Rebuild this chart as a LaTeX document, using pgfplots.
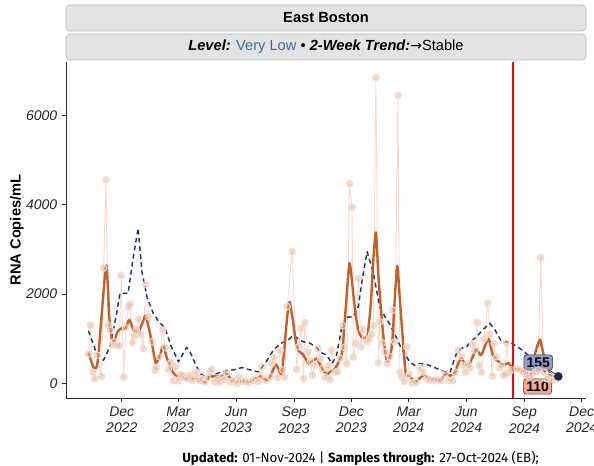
\documentclass[border=0pt]{standalone}
\usepackage{fontspec}
\setmainfont{Liberation Sans}
\newfontfamily\footfont{Fira Sans}
\newfontfamily\symfont{DejaVu Sans}
\usepackage{pgfplots}
\usepackage{pgfplotstable}
\pgfplotsset{compat=1.18}

\definecolor{rawpt}{HTML}{E6B59B}
\definecolor{rawln}{HTML}{F3DCCF}
\definecolor{smoothc}{HTML}{C4612A}
\definecolor{navy}{HTML}{1C3769}
\definecolor{stripfill}{HTML}{E3E3E3}
\definecolor{stripline}{HTML}{B8B8B8}
\definecolor{vlow}{HTML}{3E6D9C}
\definecolor{lblblue}{HTML}{8E9ECC}
\definecolor{lblsalmon}{HTML}{F6AB8E}
\definecolor{dotnavy}{HTML}{1E2A4F}
\definecolor{vred}{rgb}{1,0,0}

% days since 01-Dec-2022, RNA copies/mL
\pgfplotstableread{
d v
-53 660
-50 1300
-46 250
-43 100
-39 630
-32 160
-29 2580
-25 4560
-22 1300
-18 1190
-14 860
-12 930
-8 850
-4 840
-1 2420
3 140
6 1250
11 1710
13 1770
17 910
20 1060
23 1200
27 1440
30 1100
34 780
38 2210
43 1490
48 930
53 290
55 350
60 590
65 1190
69 800
74 310
78 460
82 55
86 370
90 55
93 200
97 180
100 120
104 100
108 180
112 60
118 250
121 130
124 67
128 100
132 30
136 120
140 250
143 310
148 30
152 80
156 30
160 140
163 90
167 240
172 30
177 60
183 0
186 130
191 40
196 50
201 20
207 60
212 90
217 40
220 180
223 370
229 67
236 150
239 450
242 580
248 130
252 740
256 300
259 140
263 1720
271 2950
278 310
281 820
285 1230
289 105
291 1360
296 700
300 500
303 180
307 400
312 780
316 560
319 330
323 140
328 400
331 80
334 740
339 250
343 260
347 560
351 1290
354 800
358 440
362 4470
366 3940
368 590
372 890
376 2350
380 820
383 1210
387 1000
390 930
394 1000
397 1100
400 1300
404 6850
408 460
410 1380
414 900
418 700
422 450
426 600
431 1640
434 930
439 6450
442 250
445 150
449 50
453 820
457 200
462 10
468 20
474 350
479 250
485 100
490 70
496 70
502 80
507 60
514 220
520 60
526 60
530 250
535 740
540 600
544 400
547 250
550 430
554 350
558 890
562 740
565 1360
568 400
572 250
576 1000
582 1790
585 1100
589 160
592 890
596 600
600 350
604 400
607 180
609 200
612 890
616 250
620 300
628 330
633 300
638 250
643 200
647 150
652 200
657 250
662 300
666 2820
671 250
676 100
681 150
686 80
690 130
694 110
}\rawdata

\pgfplotstableread{
d v
-53 680
-44 330
-38 520
-25 2640
-20 1500
-16 1000
-12 930
-7 1150
-1 1230
6 1230
12 1420
20 1150
27 1150
34 1400
38 1510
46 1040
54 460
61 650
66 840
71 600
77 370
81 250
86 180
94 130
102 110
114 120
120 80
132 30
139 120
145 157
153 150
159 170
166 217
175 70
183 50
191 50
197 40
204 30
212 100
220 157
226 100
233 67
239 250
245 427
250 300
254 180
258 700
263 1500
267 1827
272 1400
278 820
283 700
288 650
297 440
302 480
310 555
315 420
320 290
326 200
331 254
339 330
350 667
355 1500
362 2690
368 2000
373 1415
377 1150
381 1040
387 1020
391 1100
396 1800
400 2800
404 3380
408 2400
413 1490
417 900
421 520
425 520
430 900
434 1900
438 2630
442 1900
448 741
452 180
458 150
466 30
473 100
479 180
487 140
493 105
500 80
506 67
513 180
516 217
522 170
530 250
535 450
540 555
546 420
551 367
558 600
564 757
571 629
577 820
583 1004
587 800
590 629
596 520
604 442
609 420
615 457
619 380
623 330
628 310
633 307
641 270
650 180
654 400
657 667
662 900
665 981
668 800
673 517
680 250
686 142
690 120
694 110
}\smoothdata

\pgfplotstableread{
d v
-53 1175
-40 667
-29 517
-19 816
-9 1500
-3 2016
10 2016
18 2800
26 3476
32 2500
40 1939
50 1566
59 1380
69 1229
78 850
90 479
103 801
108 720
118 400
126 200
135 142
151 217
167 292
177 300
191 352
204 300
217 254
228 450
241 741
252 892
263 950
273 1079
280 1000
289 928
299 900
310 800
315 704
326 629
334 442
341 600
350 1265
358 1480
368 1490
376 1715
382 2300
390 2951
400 2465
410 1715
418 1500
427 1303
434 1100
442 854
450 650
458 479
466 400
474 442
485 420
495 367
506 300
514 260
522 254
532 667
540 780
548 816
556 950
564 1040
574 1200
585 1341
593 1200
604 928
609 928
617 928
625 850
633 779
643 667
657 500
666 400
675 217
684 180
694 155
}\avgdata

\begin{document}
\begin{tikzpicture}[x=1pt,y=1pt]
% facet strips
\draw[fill=stripfill, draw=stripline, line width=0.5pt, rounded corners=3pt]
  (49.5pt,326.25pt) rectangle (439.5pt,345.75pt);
\node[font=\bfseries\fontsize{11}{13}\selectfont] at (244.5pt,336pt) {East Boston};
\draw[fill=stripfill, draw=stripline, line width=0.5pt, rounded corners=3pt]
  (49.5pt,304.5pt) rectangle (439.5pt,324pt);
\node[font=\fontsize{11}{13}\selectfont] at (244.5pt,314.25pt)
  {\textbf{\textit{Level:}} {\color{vlow}Very Low} \textbullet{} \textbf{\textit{2-Week Trend:}}{\symfont\fontsize{10.5}{13}\selectfont →}Stable};

\begin{axis}[
  at={(49.5pt,51pt)}, anchor=south west,
  scale only axis, width=390pt, height=252pt,
  xmin=-88.7, xmax=738, ymin=-329, ymax=7197,
  axis x line*=bottom, axis y line*=left,
  axis line style={black!85, line width=0.6pt, -},
  tick align=outside, major tick length=3pt,
  tick style={black!85, line width=0.5pt},
  xtick={0,90,182,274,365,456,548,640,731},
  xticklabels={{Dec\\2022},{Mar\\2023},{Jun\\2023},{Sep\\2023},{Dec\\2023},{Mar\\2024},{Jun\\2024},{Sep\\2024},{Dec\\2024}},
  xticklabel style={align=center, font=\itshape\fontsize{10.5}{12.5}\selectfont, text=black!85},
  ytick={0,2000,4000,6000},
  yticklabels={0,2000,4000,6000},
  yticklabel style={font=\itshape\fontsize{10.5}{12.5}\selectfont, text=black!85},
  ylabel={RNA Copies/mL},
  ylabel shift=-5pt,
  ylabel style={font=\bfseries\fontsize{11}{13}\selectfont},
  clip=true,
]
\addplot[draw=rawln, line width=0.7pt, mark=*, mark size=2.5pt,
  mark options={draw=none, fill=rawpt, fill opacity=0.5}] table[x=d,y=v] {\rawdata};
\addplot[navy, line width=1.1pt, dash pattern=on 3.5pt off 2.6pt, line join=round] table[x=d,y=v] {\avgdata};
\addplot[smoothc, line width=1.8pt, line join=round, smooth, tension=0.35] table[x=d,y=v] {\smoothdata};
\draw[color=vred, line width=1pt] (axis cs:622,-329) -- (axis cs:622,7197);
\addplot[black!85, line width=0.5pt] coordinates {(672,380) (694,155)};
\addplot[only marks, mark=*, mark size=3pt, mark options={fill=dotnavy, draw=dotnavy}] coordinates {(694,155)};
\node[fill=lblblue, draw=black!80, rounded corners=2pt, inner sep=2pt,
  font=\bfseries\fontsize{10.5}{12}\selectfont] at (axis cs:662,466) {155};
\node[fill=lblsalmon, draw=black!80, rounded corners=2pt, inner sep=2pt,
  font=\bfseries\fontsize{10.5}{12}\selectfont] at (axis cs:661,-72) {110};
\end{axis}
\node[font=\footfont\fontsize{10}{12}\selectfont] at (270.4pt,6pt)
  {\textbf{Updated:} 01-Nov-2024 | \textbf{Samples through:} 27-Oct-2024 (EB);};
\pgfresetboundingbox
\path[use as bounding box] (0pt,0pt) rectangle (445.5pt,349.5pt);
\end{tikzpicture}
\end{document}
